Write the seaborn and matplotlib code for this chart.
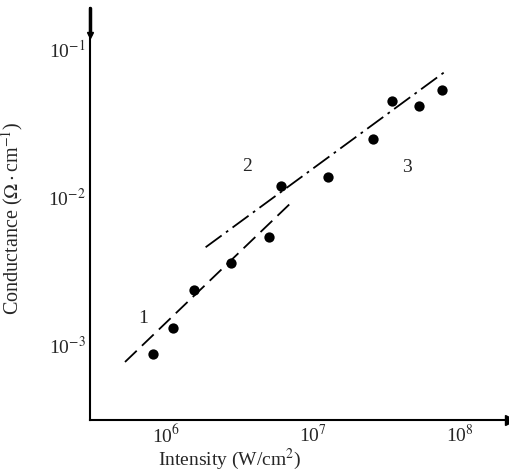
import numpy as np
import pandas as pd
import matplotlib
matplotlib.use("Agg")
import matplotlib.pyplot as plt
import seaborn as sns

# data
intensity = [8.1e5, 1.12e6, 1.56e6, 2.77e6, 5.05e6, 6.03e6, 1.27e7, 2.57e7, 3.47e7, 5.25e7, 7.6e7]
conductance = [8.7e-4, 1.31e-3, 2.35e-3, 3.6e-3, 5.4e-3, 1.19e-2, 1.36e-2, 2.45e-2, 4.46e-2, 4.12e-2, 5.28e-2]

# fitted lines (end points)
fit1_x = [5.26e5, 7.31e6]
fit1_y = [7.67e-4, 9.4e-3]
fit2_x = [1.86e6, 8.04e7]
fit2_y = [4.57e-3, 7.1e-2]

region_labels = ["1", "2", "3"]
region_x = [6.96e5, 3.56e6, 4.36e7]
region_y = [1.52e-3, 1.6e-2, 1.57e-2]

xticks = [1e6, 1e7, 1e8]
xticklabels = ["10$^6$", "10$^7$", "10$^8$"]
yticks = [1e-3, 1e-2, 1e-1]
yticklabels = ["10$^{-3}$", "10$^{-2}$", "10$^{-1}$"]

sns.set_style("white")
plt.rcParams["font.family"] = ["Liberation Serif", "DejaVu Serif"]
plt.rcParams["mathtext.fontset"] = "stix"

fig = plt.figure(figsize=(5.1, 4.73), dpi=100)
ax = fig.add_axes([90 / 510, 53 / 473, 420 / 510, 412 / 473])

df = pd.DataFrame({"x": intensity, "y": conductance})
sns.scatterplot(data=df, x="x", y="y", ax=ax, color="black", s=55, edgecolor="black", linewidth=0, zorder=3)

sns.lineplot(x=fit1_x, y=fit1_y, ax=ax, color="black", lw=1.3)
ax.lines[-1].set_dashes([9, 4])
sns.lineplot(x=fit2_x, y=fit2_y, ax=ax, color="black", lw=1.3)
ax.lines[-1].set_dashes([11, 3, 1.5, 3])

ax.set_xscale("log")
ax.set_yscale("log")
ax.set_xlim(3.04e5, 2.19e8)
ax.set_ylim(3.11e-4, 0.189)
ax.set_xticks(xticks)
ax.set_xticklabels(xticklabels)
ax.set_yticks(yticks)
ax.set_yticklabels(yticklabels)
ax.minorticks_off()
ax.tick_params(direction="in", length=5, width=1.2, labelsize=14, color="black", pad=3)

for lab, lx, ly in zip(region_labels, region_x, region_y):
    ax.text(lx, ly, lab, fontsize=14, ha="center", va="center")

ax.set_xlabel("Intensity (W/cm$^2$)", fontsize=14)
ax.xaxis.set_label_coords(0.333, -0.066)
ax.set_ylabel("Conductance ($\\Omega\\cdot$cm$^{-1}$)", fontsize=14.5)
ax.yaxis.set_label_coords(-0.155, 0.49)

sns.despine(ax=ax)
for side in ["left", "bottom"]:
    ax.spines[side].set_linewidth(1.5)
    ax.spines[side].set_color("black")

# arrow heads at the axis ends
ax.plot(1, 0, ">", transform=ax.transAxes, color="black", ms=7, clip_on=False)
ax.plot(0, 0.935, "v", transform=ax.transAxes, color="black", ms=5, clip_on=False)
ax.plot([0, 0], [0.935, 1.0], transform=ax.transAxes, color="black", lw=2.5, clip_on=False)

fig.savefig("out.png", dpi=100)
